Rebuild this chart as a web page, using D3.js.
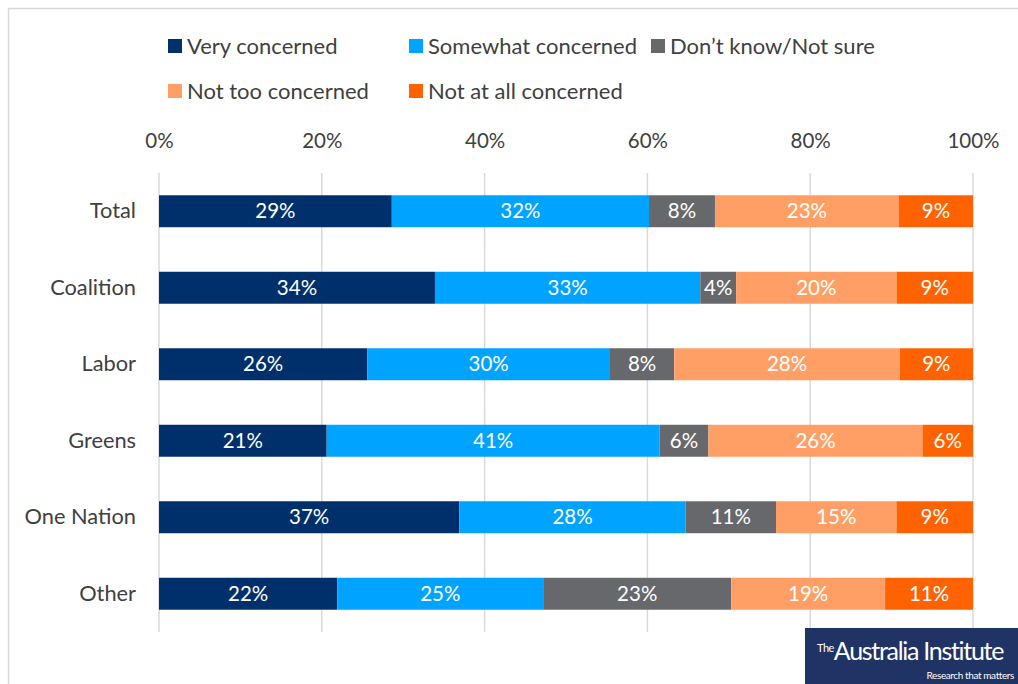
<!DOCTYPE html>
<html>
<head>
<meta charset="utf-8">
<script src="https://cdn.jsdelivr.net/npm/d3@7"></script>
<style>
  html, body { margin: 0; padding: 0; background: #fff; }
  svg { display: block; }
  text { font-family: Lato, "Open Sans", sans-serif; }
</style>
</head>
<body>
<svg id="chart" width="1018" height="684"></svg>
<script>
// Party groups, top to bottom
const categories = ["Total", "Coalition", "Labor", "Greens", "One Nation", "Other"];

// Response options, stacked left to right
const seriesNames = ["Very concerned", "Somewhat concerned", "Don\u2019t know/Not sure", "Not too concerned", "Not at all concerned"];
const seriesColors = ["#00306B", "#00A3FF", "#66686C", "#FF9F66", "#FF6200"];

// Share of each group (%), one array per response option, in category order
const veryConcerned     = [28.6, 33.9, 25.6, 20.6, 36.9, 21.9];
const somewhatConcerned = [31.6, 32.6, 29.8, 40.9, 27.8, 25.3];
const dontKnow          = [8.1,  4.4,  7.9,  6.0,  11.1, 23.1];
const notTooConcerned   = [22.6, 19.7, 27.7, 26.3, 14.8, 18.9];
const notAtAllConcerned = [9.1,  9.4,  9.0,  6.2,  9.4,  10.8];

const tickValues = [0, 20, 40, 60, 80, 100];

const seriesValues = [veryConcerned, somewhatConcerned, dontKnow, notTooConcerned, notAtAllConcerned];

const rows = categories.map((c, i) => {
  const r = { category: c };
  seriesNames.forEach((s, j) => { r[s] = seriesValues[j][i]; });
  return r;
});

const svg = d3.select("#chart");

// Outer frame
svg.append("rect")
  .attr("x", 8.5).attr("y", 8.5)
  .attr("width", 1030).attr("height", 700)
  .attr("fill", "none").attr("stroke", "#D9D9D9").attr("stroke-width", 1.5);

const x = d3.scaleLinear().domain([0, 100]).range([159, 973]);
const y = d3.scaleBand().domain(categories).range([173, 632])
  .paddingInner(0.582).paddingOuter(0.291);

// Vertical gridlines
svg.append("g").selectAll("line")
  .data(tickValues)
  .join("line")
  .attr("x1", d => x(d)).attr("x2", d => x(d))
  .attr("y1", 173).attr("y2", 632)
  .attr("stroke", "#D9D9D9").attr("stroke-width", 1.5);

// Percent axis along the top
const xAxis = svg.append("g")
  .attr("transform", "translate(0,141)")
  .call(d3.axisTop(x).tickValues(tickValues).tickFormat(d => d + "%").tickSize(0).tickPadding(0));
xAxis.select(".domain").remove();
xAxis.selectAll("text")
  .attr("dy", "0.35em")
  .attr("font-family", "Lato, sans-serif")
  .attr("font-size", 20.5)
  .attr("fill", "#404040");

// Category axis
const yAxis = svg.append("g")
  .attr("transform", "translate(136,0)")
  .call(d3.axisLeft(y).tickSize(0).tickPadding(0));
yAxis.select(".domain").remove();
yAxis.selectAll("text")
  .attr("font-family", "Lato, sans-serif")
  .attr("font-size", 21.8)
  .attr("fill", "#404040");

// Stacked bars
const stack = d3.stack().keys(seriesNames);
const stacked = stack(rows);

const layers = svg.append("g").selectAll("g")
  .data(stacked)
  .join("g")
  .attr("fill", (d, i) => seriesColors[i]);

layers.selectAll("rect")
  .data(d => d)
  .join("rect")
  .attr("x", d => x(d[0]))
  .attr("y", d => y(d.data.category))
  .attr("width", d => x(d[1]) - x(d[0]))
  .attr("height", y.bandwidth());

// Value labels
layers.selectAll("text")
  .data(d => d.map(p => ({ p, key: d.key })))
  .join("text")
  .attr("x", d => (x(d.p[0]) + x(d.p[1])) / 2)
  .attr("y", d => y(d.p.data.category) + y.bandwidth() / 2)
  .attr("dy", "0.35em")
  .attr("text-anchor", "middle")
  .attr("font-size", 20.5)
  .attr("fill", "#FFFFFF")
  .text(d => Math.round(d.p.data[d.key]) + "%");

// Legend
const legendItems = [
  { name: seriesNames[0], color: seriesColors[0], x: 168, y: 46 },
  { name: seriesNames[1], color: seriesColors[1], x: 409, y: 46 },
  { name: seriesNames[2], color: seriesColors[2], x: 651, y: 46 },
  { name: seriesNames[3], color: seriesColors[3], x: 168, y: 91 },
  { name: seriesNames[4], color: seriesColors[4], x: 409, y: 91 }
];
const legend = svg.append("g").selectAll("g")
  .data(legendItems)
  .join("g")
  .attr("transform", d => `translate(${d.x},${d.y})`);
legend.append("rect")
  .attr("x", 0).attr("y", -7)
  .attr("width", 14).attr("height", 14)
  .attr("fill", d => d.color);
legend.append("text")
  .attr("x", 19).attr("y", 0).attr("dy", "0.35em")
  .attr("font-size", 22)
  .attr("fill", "#404040")
  .text(d => d.name);

// Publisher badge
const badge = svg.append("g").attr("transform", "translate(805,628)");
badge.append("rect").attr("width", 213).attr("height", 56).attr("fill", "#1F3364");
const brand = badge.append("text")
  .attr("x", 12).attr("y", 32)
  .attr("fill", "#FFFFFF")
  .attr("font-family", "'Open Sans', sans-serif");
brand.append("tspan").attr("font-size", 11).attr("dy", -8).attr("letter-spacing", -0.5).text("The");
brand.append("tspan").attr("font-size", 25).attr("dy", 8).attr("letter-spacing", -1.3).text("Australia Institute");
badge.append("text")
  .attr("x", 209).attr("y", 51)
  .attr("text-anchor", "end")
  .attr("fill", "#FFFFFF")
  .attr("font-family", "'Open Sans', sans-serif")
  .attr("font-size", 10)
  .attr("letter-spacing", -0.4)
  .text("Research that matters");
</script>
</body>
</html>
